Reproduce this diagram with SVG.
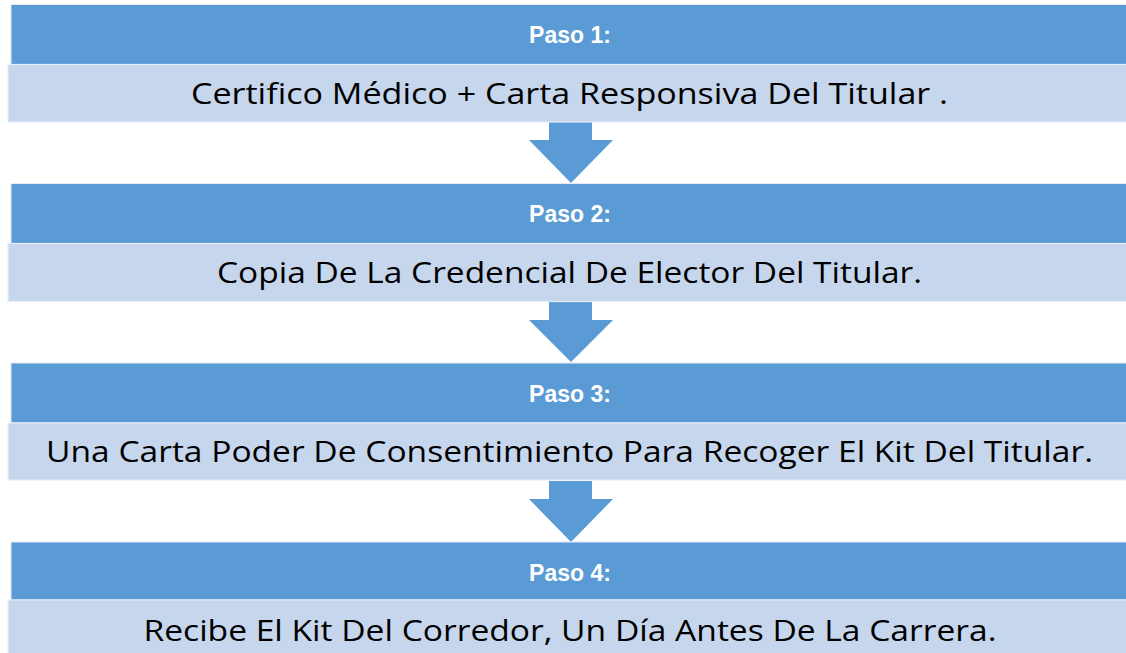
<svg xmlns="http://www.w3.org/2000/svg" width="1126" height="653" viewBox="0 0 1126 653">
<style>
.hdr{fill:#5B9BD5;stroke:#E3ECF7;stroke-width:1}
.body{fill:#C6D6EC;stroke:#E6EDF7;stroke-width:1.2}
.lbl{font-family:"Liberation Sans",Arial,sans-serif;font-weight:bold;font-size:23px;fill:#FFFFFF;text-anchor:middle}
.txt{font-family:"Open Sans","Liberation Sans",sans-serif;font-size:30px;fill:#000000;text-anchor:middle}
.arr{fill:#5B9BD5}
</style>
<rect width="1126" height="653" fill="#FFFFFF"/>
<g id="connectors">
<path class="arr" d="M549,122 H592 V140 H613 L571,183 L529,140 H549 Z"/>
<path class="arr" d="M549,302 H592 V320 H613 L571,362 L529,320 H549 Z"/>
<path class="arr" d="M549,481 H592 V499 H613 L571,542 L529,499 H549 Z"/>
</g>
<g id="step1">
<rect class="hdr" x="11" y="4.5" width="1120" height="60"/>
<rect class="body" x="8" y="64.5" width="1125" height="57.5"/>
<text class="lbl" x="570" y="43">Paso 1:</text>
<text class="txt" x="569.5" y="103.5" textLength="757" lengthAdjust="spacingAndGlyphs">Certifico Médico + Carta Responsiva Del Titular .</text>
</g>
<g id="step2">
<rect class="hdr" x="11" y="183.5" width="1120" height="60"/>
<rect class="body" x="8" y="243.5" width="1125" height="58"/>
<text class="lbl" x="570" y="222">Paso 2:</text>
<text class="txt" x="569.5" y="283" textLength="705" lengthAdjust="spacingAndGlyphs">Copia De La Credencial De Elector Del Titular.</text>
</g>
<g id="step3">
<rect class="hdr" x="11" y="363" width="1120" height="60"/>
<rect class="body" x="8" y="423" width="1125" height="57"/>
<text class="lbl" x="570" y="401.5">Paso 3:</text>
<text class="txt" x="569.5" y="462" textLength="1047" lengthAdjust="spacingAndGlyphs">Una Carta Poder De Consentimiento Para Recoger El Kit Del Titular.</text>
</g>
<g id="step4">
<rect class="hdr" x="11" y="542" width="1120" height="58"/>
<rect class="body" x="8" y="600" width="1125" height="60"/>
<text class="lbl" x="570" y="581">Paso 4:</text>
<text class="txt" x="570" y="641" textLength="853" lengthAdjust="spacingAndGlyphs">Recibe El Kit Del Corredor, Un Día Antes De La Carrera.</text>
</g>
</svg>
